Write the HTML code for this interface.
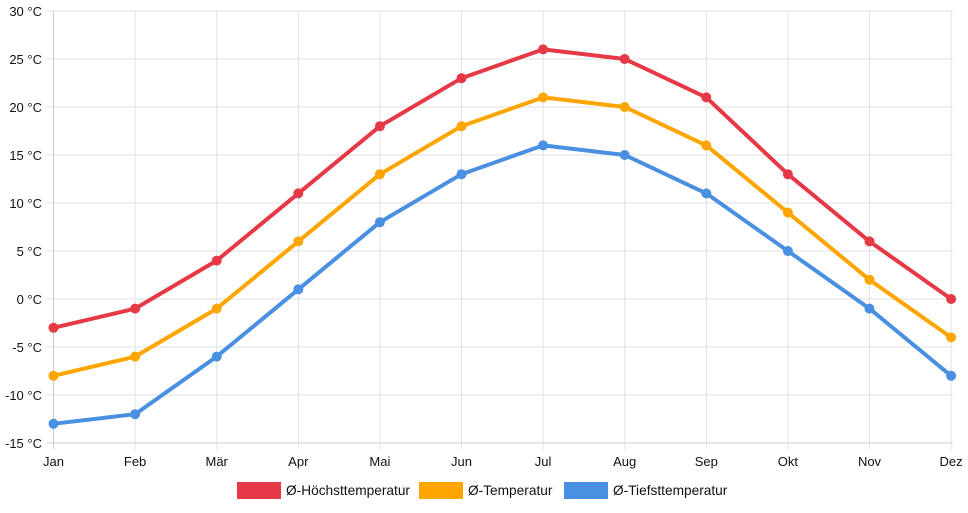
<!DOCTYPE html>
<html><head><meta charset="utf-8"><style>
body{margin:0;background:#fff;width:968px;height:508px;overflow:hidden}
text{font-family:"Liberation Sans",Arial,sans-serif;font-size:13px;fill:#111}
text.lg{font-size:13.7px}
</style></head><body>
<svg id="s" width="968" height="508" xmlns="http://www.w3.org/2000/svg"></svg>
<script>
const s=document.getElementById('s');
const X0=53.5,DX=81.6,Y0=299,K=9.6;
const xs=i=>X0+i*DX, ys=t=>Y0-t*K;
let h='';
for(let t=-15;t<=30;t+=5){const y=ys(t);
 h+=`<line x1="47" x2="953" y1="${y}" y2="${y}" stroke="${t==-15?'#ccc':'#e2e2e2'}" stroke-width="1"/>`;
 h+=`<text x="42" y="${y+5}" text-anchor="end">${t} °C</text>`;}
const m=['Jan','Feb','Mär','Apr','Mai','Jun','Jul','Aug','Sep','Okt','Nov','Dez'];
m.forEach((n,i)=>{const x=xs(i);
 h+=`<line x1="${x}" x2="${x}" y1="${ys(30)}" y2="449" stroke="${i==0?'#ccc':'#e2e2e2'}"/>`;
 h+=`<text x="${x}" y="466" text-anchor="middle">${n}</text>`;});
const d=[['#e63946',[-3,-1,4,11,18,23,26,25,21,13,6,0]],
['#ffa500',[-8,-6,-1,6,13,18,21,20,16,9,2,-4]],
['#4a90e2',[-13,-12,-6,1,8,13,16,15,11,5,-1,-8]]];
d.forEach(([c,v])=>{
 h+=`<polyline fill="none" stroke="${c}" stroke-width="4" stroke-linejoin="round" points="${v.map((t,i)=>xs(i)+','+ys(t)).join(' ')}"/>`;
 v.forEach((t,i)=>h+=`<circle cx="${xs(i)}" cy="${ys(t)}" r="5" fill="${c}"/>`);});
const L=[[237,'#e63946','Ø-Höchsttemperatur'],[419,'#ffa500','Ø-Temperatur'],[564,'#4a90e2','Ø-Tiefsttemperatur']];
L.forEach(([x,c,t])=>{h+=`<rect x="${x}" y="482" width="44" height="17" fill="${c}"/><text class="lg" x="${x+49}" y="495">${t}</text>`;});
s.innerHTML=h;
</script>
</body></html>
